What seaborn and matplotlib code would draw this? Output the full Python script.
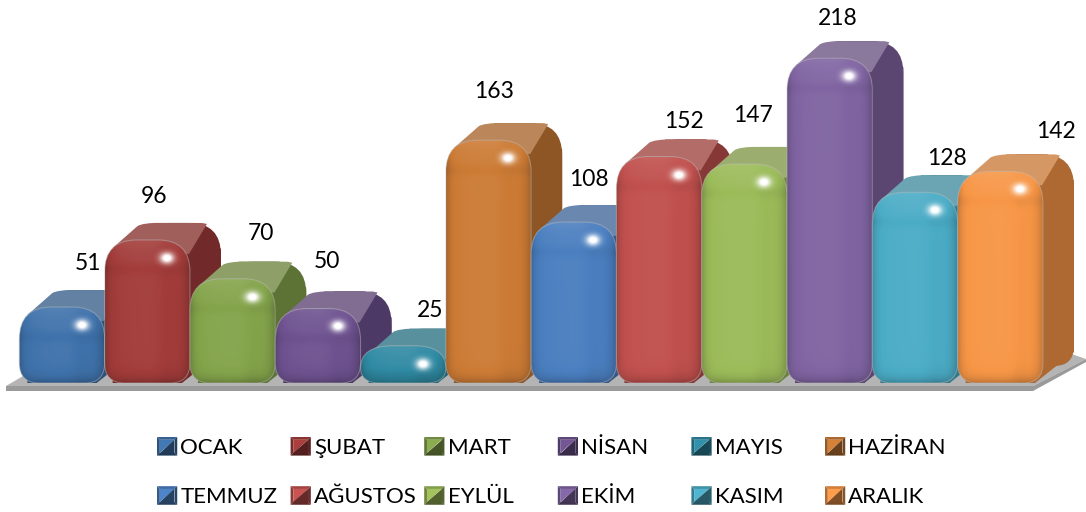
import numpy as np
import matplotlib
matplotlib.use("Agg")
import matplotlib.pyplot as plt
import seaborn as sns
from matplotlib.path import Path
from matplotlib.patches import PathPatch, Polygon, Patch
from matplotlib.legend_handler import HandlerBase
from matplotlib.colors import to_rgb
from matplotlib.transforms import IdentityTransform

months = ["OCAK", "ŞUBAT", "MART", "NİSAN", "MAYIS", "HAZİRAN",
          "TEMMUZ", "AĞUSTOS", "EYLÜL", "EKİM", "KASIM", "ARALIK"]
values = [51, 96, 70, 50, 25, 163, 108, 152, 147, 218, 128, 142]
colors = ["#3f72ab", "#a23c3a", "#84a44b", "#6e5290", "#2f8aa3", "#cc7b35",
          "#4a7ebf", "#c0504d", "#9bbb59", "#8064a2", "#4bacc6", "#f79646"]
label_offsets = [(26, 44), (7, 43), (28, 45), (9, 47), (27, 35), (6, 49),
                 (15, 43), (25, 35), (9, 48), (8, 40), (32, 34), (56, 40)]

W, H = 1086, 512
BASE_PX, UNIT_PX, STEP_PX, FIRST_PX = 383, 1.49, 85.3, 62
DX, DY, RT, RB = 31, 17, 32, 20

sns.set_theme(style="white")
plt.rcParams["font.family"] = ["Lato", "DejaVu Sans"]

fig = plt.figure(figsize=(W / 100, H / 100), dpi=100)
ax = fig.add_axes([0, 0, 1, 1])
sns.barplot(x=months, y=values, hue=months, palette=colors, order=months,
            hue_order=months, width=1.0, saturation=1, legend=False, dodge=False, ax=ax)
ax.set_xlim(-FIRST_PX / STEP_PX, (W - FIRST_PX) / STEP_PX)
ax.set_ylim(-(H - BASE_PX) / UNIT_PX, BASE_PX / UNIT_PX)
ax.set_autoscale_on(False)
ax.set_axis_off()
px, py = 1 / STEP_PX, 1 / UNIT_PX


def rrect(x0, x1, y0, y1, rt, rb):
    rtx, rty, rbx, rby = rt * px, min(rt * py, (y1 - y0) * 0.6), rb * px, min(rb * py, (y1 - y0) * 0.4)
    v = [(x0 + rbx, y0), (x1 - rbx, y0), (x1, y0), (x1, y0 + rby), (x1, y1 - rty), (x1, y1),
         (x1 - rtx, y1), (x0 + rtx, y1), (x0, y1), (x0, y1 - rty), (x0, y0 + rby), (x0, y0),
         (x0 + rbx, y0), (x0 + rbx, y0)]
    c = [Path.MOVETO, Path.LINETO, Path.CURVE3, Path.CURVE3, Path.LINETO, Path.CURVE3, Path.CURVE3,
         Path.LINETO, Path.CURVE3, Path.CURVE3, Path.LINETO, Path.CURVE3, Path.CURVE3, Path.CLOSEPOLY]
    return Path(v, c)


def front_shade(w, h):
    xx, yy = np.meshgrid(np.arange(w) + .5, np.arange(h) + .5)
    s = np.zeros((h, w))
    s -= 0.22 * np.exp(-xx / 4)
    s -= 0.26 * np.exp(-(w - xx) / 6)
    s += 0.04 * np.sin(xx / w * np.pi)
    s += 0.08 * np.exp(-yy / 14)
    s -= 0.28 * np.exp(-(h - yy) / 6)
    s -= 0.035 * np.exp(-((xx - w * .72) / (w * .1)) ** 2)
    s -= 0.04 * np.exp(-((yy - 30) / 6) ** 2)
    out = np.zeros((h, w, 4))
    out[..., :3] = (s > 0)[..., None] * 1.0
    out[..., 3] = np.abs(s)
    return out


def glow():
    xx, yy = np.meshgrid(np.linspace(-1, 1, 41), np.linspace(-1, 1, 41))
    out = np.ones((41, 41, 4))
    out[..., 3] = np.clip(np.exp(-(xx ** 2 + yy ** 2) * 4.0) * 1.25, 0, 1)
    return out


# Floor
floor = dict(transform=IdentityTransform(), linewidth=0, zorder=0.1)
ax.add_patch(Polygon([(6, H - 386), (1033, H - 386), (1086, H - 359), (1060, H - 350), (30, H - 372)],
                     facecolor="#b4b4b4", **floor))
ax.add_patch(Polygon([(6, H - 386), (1033, H - 386), (1086, H - 359), (1086, H - 362),
                      (1033, H - 391), (6, H - 391)], facecolor="#9a9a9a", **floor))

bars = sorted([c[0] for c in ax.containers if len(c)], key=lambda b: b.get_x())
for i, (bar, month, value) in enumerate(zip(bars, months, values)):
    z = 1 + i * 10
    col = np.array(to_rgb(bar.get_facecolor()[:3]))
    x0, x1 = bar.get_x(), bar.get_x() + bar.get_width()
    y1 = bar.get_height()
    ddx, ddy = DX * px, DY * py
    side = col * 0.70
    top = col * 0.62 + 0.38 * np.array([.62, .60, .58])

    # depth body
    ax.add_patch(PathPatch(rrect(x0 + ddx, x1 + ddx, ddy, y1 + ddy, RT, RB), fc=side, lw=0, zorder=z))
    ax.add_patch(Polygon([(x0 + 10 * px, y1 - 8 * py), (x0 + ddx + 18 * px, y1 + ddy),
                          (x1 + ddx - 26 * px, y1 + ddy), (x1 + ddx, y1 + ddy - 26 * py),
                          (x1 + ddx, ddy + 14 * py), (x1 - 8 * px, 0), (x0 + 8 * px, 0)],
                         fc=side, lw=0, zorder=z))
    # top face
    tv = [(x0 + 8 * px, y1 - 8 * py), (x0 + ddx + 2 * px, y1 + ddy - 3 * py), (x0 + ddx + 8 * px, y1 + ddy),
          (x0 + ddx + 20 * px, y1 + ddy), (x1 + 12 * px, y1 + ddy), (x1 + 17 * px, y1 + ddy - 1 * py),
          (x1 - 1 * px, y1 - 14 * py), (x0 + 8 * px, y1 - 8 * py)]
    tc = [Path.MOVETO, Path.LINETO, Path.CURVE3, Path.CURVE3, Path.LINETO, Path.LINETO, Path.LINETO, Path.CLOSEPOLY]
    ax.add_patch(PathPatch(Path(tv, tc), fc=top, lw=0, zorder=z + 1))
    # front face : the seaborn bar clipped to a rounded outline, then shaded
    outline = PathPatch(rrect(x0, x1, 0, y1, RT, RB), fc="none", ec=(0.75, 0.75, 0.75, 0.45), lw=0.8, zorder=z + 4)
    ax.add_patch(outline)
    bar.set_zorder(z + 2)
    bar.set_linewidth(0)
    bar.set_clip_path(outline)
    wpx, hpx = int(round((x1 - x0) / px)), max(int(round(y1 / py)), 4)
    im = ax.imshow(front_shade(wpx, hpx), extent=(x0, x1, 0, y1), aspect="auto", origin="upper",
                   interpolation="bilinear", zorder=z + 3)
    im.set_clip_path(outline)
    # highlight
    hx, hy = x1 - 23 * px, y1 - 18 * py
    ax.imshow(glow(), extent=(hx - 14 * px, hx + 14 * px, hy - 11 * py, hy + 11 * py), aspect="auto",
              interpolation="bilinear", zorder=z + 5)
    # value label
    ox, oy = label_offsets[i]
    ax.annotate(str(value), xy=(bar.get_x() + bar.get_width() / 2, y1), xytext=(ox, oy),
                textcoords="offset pixels", ha="center", va="center", fontsize=16.5, color="black", zorder=200)


class BevelHandler(HandlerBase):
    def create_artists(self, legend, orig_handle, xdescent, ydescent, width, height, fontsize, trans):
        c = np.array(to_rgb(orig_handle.get_facecolor()[:3]))
        x0, y0 = -xdescent, -ydescent
        x1, y1 = x0 + width, y0 + height
        b = 2.0
        ix0, ix1, iy0, iy1 = x0 + b, x1 - b, y0 + b, y1 - b
        shapes = [
            ([(x0, y0), (x0, y1), (ix0, iy1), (ix0, iy0)], c * 0.72),
            ([(x0, y1), (x1, y1), (ix1, iy1), (ix0, iy1)], c * 0.85),
            ([(x1, y1), (x1, y0), (ix1, iy0), (ix1, iy1)], c * 0.55),
            ([(x1, y0), (x0, y0), (ix0, iy0), (ix1, iy0)], c * 0.5),
            ([(ix0, iy1), (ix1, iy1), (ix0, iy0)], np.clip(c * 1.05, 0, 1)),
            ([(ix1, iy1), (ix1, iy0), (ix0, iy0)], c * 0.52),
        ]
        return [Polygon(pts, closed=True, facecolor=fc, edgecolor="none", transform=trans)
                for pts, fc in shapes]


col_step = 133.6
for j in range(6):
    idx = [j, j + 6]
    handles = [Patch(facecolor=colors[k], label=months[k]) for k in idx]
    leg = ax.legend(handles=handles, loc="upper left",
                    bbox_to_anchor=((157 + col_step * j) / W, 1 - 437 / H), bbox_transform=fig.transFigure,
                    frameon=False, fontsize=16, borderpad=0, borderaxespad=0,
                    handlelength=0.91, handleheight=0.91, handletextpad=0.14, labelspacing=1.27,
                    handler_map={Patch: BevelHandler()}, labelcolor="black")
    leg.set_zorder(300)
    ax.add_artist(leg)
ax.legend_ = None

fig.savefig("out.png", dpi=100, facecolor="white")
